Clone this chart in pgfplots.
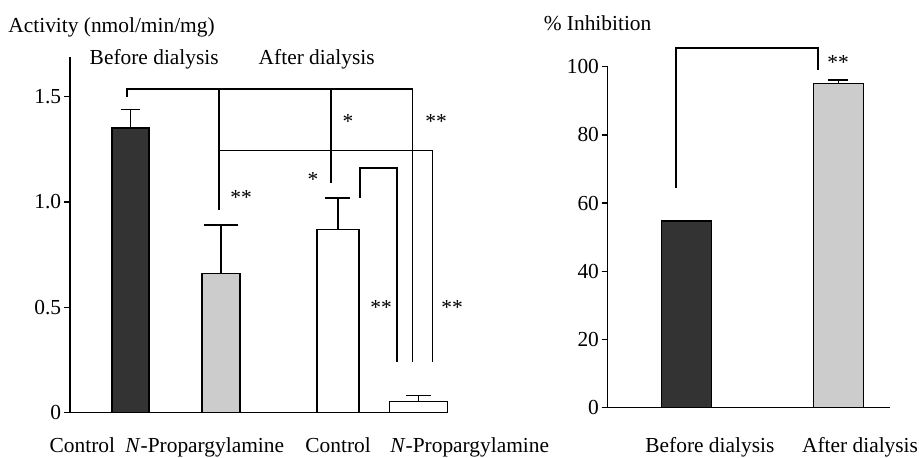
\documentclass[border=0pt]{standalone}
\usepackage{fontspec}
\setmainfont{Liberation Serif}
\usepackage{pgfplots}
\pgfplotsset{compat=1.18}
\definecolor{darkbar}{gray}{0.2}
\definecolor{lightbar}{gray}{0.8}
\begin{document}
\begin{tikzpicture}[font=\fontsize{10.7}{12.8}\selectfont, x=1pt, y=1pt]
\useasboundingbox (0,0) rectangle (459.5,229);
\pgfplotsset{
  panel/.style={
    anchor=south west, scale only axis, clip=false,
    axis lines=left, axis line style={-, line width=0.75pt},
    xtick=\empty, tick align=outside, major tick length=3pt,
    tick style={line width=0.75pt, black},
    tick label style={font=\fontsize{10.7}{12.8}\selectfont},
    yticklabel style={inner xsep=1.2pt},
    /pgf/number format/assume math mode=true,
  },
  sbar/.style={ybar, bar shift=0pt, draw=black, line width=0.75pt,
    /pgfplots/error bars/y dir=plus, /pgfplots/error bars/y explicit,
    /pgfplots/error bars/error mark=|,
    /pgfplots/error bars/error bar style={line width=0.75pt},
    /pgfplots/error bars/error mark options={line width=0.75pt, mark size=#1}},
}
% ---------- left panel ----------
\begin{axis}[panel, at={(35pt,22.65pt)}, width=189pt, height=177.85pt,
  xmin=70, xmax=448, ymin=0, ymax=1.688,
  ytick={0,0.5,1,1.5}, yticklabels={0,0.5,1.0,1.5}]
\addplot[sbar=4.75pt, bar width=37, fill=darkbar] coordinates {(130.3,1.35) +- (0,0.09)};
\addplot[sbar=8.5pt, bar width=38, fill=lightbar] coordinates {(221,0.66) +- (0,0.23)};
\addplot[sbar=6.25pt, bar width=42, fill=white] coordinates {(337.8,0.87) +- (0,0.15)};
\addplot[sbar=6.25pt, bar width=58, fill=white] coordinates {(418.3,0.054) +- (0,0.028)};
% significance brackets
\draw[line width=0.8pt] (axis cs:126.7,1.5) |- (axis cs:412.3,1.536) -- (axis cs:412.3,0.241);
\draw[line width=0.8pt] (axis cs:219,1.536) -- (axis cs:219,0.962);
\draw[line width=0.8pt] (axis cs:331,1.536) -- (axis cs:331,1.092);
\draw[line width=0.8pt] (axis cs:219,1.245) -| (axis cs:432.3,0.241);
\draw[line width=0.8pt] (axis cs:360,1.018) |- (axis cs:396.7,1.16) -- (axis cs:396.7,0.241);
\node at (axis cs:241,1.02) {**};
\node at (axis cs:348,1.38) {*};
\node at (axis cs:313,1.105) {*};
\node at (axis cs:436,1.38) {**};
\node at (axis cs:381,0.50) {**};
\node at (axis cs:452,0.50) {**};
\end{axis}
% ---------- right panel ----------
\begin{axis}[panel, at={(303.85pt,25.15pt)}, width=141.15pt, height=170.5pt,
  xmin=607.7, xmax=890, ymin=0, ymax=100,
  ytick={0,20,40,60,80,100}, yticklabels={0,20,40,60,80,100}]
\addplot[sbar=0pt, bar width=50, fill=darkbar] coordinates {(686.7,54.8)};
\addplot[sbar=5pt, bar width=50, fill=lightbar] coordinates {(838.3,95.1) +- (0,1.0)};
\draw[line width=0.8pt] (axis cs:676,64.5) |- (axis cs:817.7,105.4) -- (axis cs:817.7,99.0);
\node at (axis cs:838,101.2) {**};
\end{axis}
% ---------- titles and labels ----------
\node[anchor=base west, inner sep=0] at (4,212.85) {Activity (nmol/min/mg)};
\node[anchor=base west, inner sep=0] at (44.67,196.5) {Before dialysis};
\node[anchor=base west, inner sep=0] at (129.17,196.5) {After dialysis};
\node[anchor=base west, inner sep=0] at (271.67,213.67) {\% Inhibition};
\node[anchor=base west, inner sep=0] at (24.65,2.5) {Control};
\node[anchor=base west, inner sep=0] at (62.5,2.5) {\textit{N}-Propargylamine};
\node[anchor=base west, inner sep=0] at (152.5,2.5) {Control};
\node[anchor=base west, inner sep=0] at (195,2.5) {\textit{N}-Propargylamine};
\node[anchor=base west, inner sep=0] at (322.5,2.5) {Before dialysis};
\node[anchor=base west, inner sep=0] at (400.85,2.5) {After dialysis};
\end{tikzpicture}
\end{document}
